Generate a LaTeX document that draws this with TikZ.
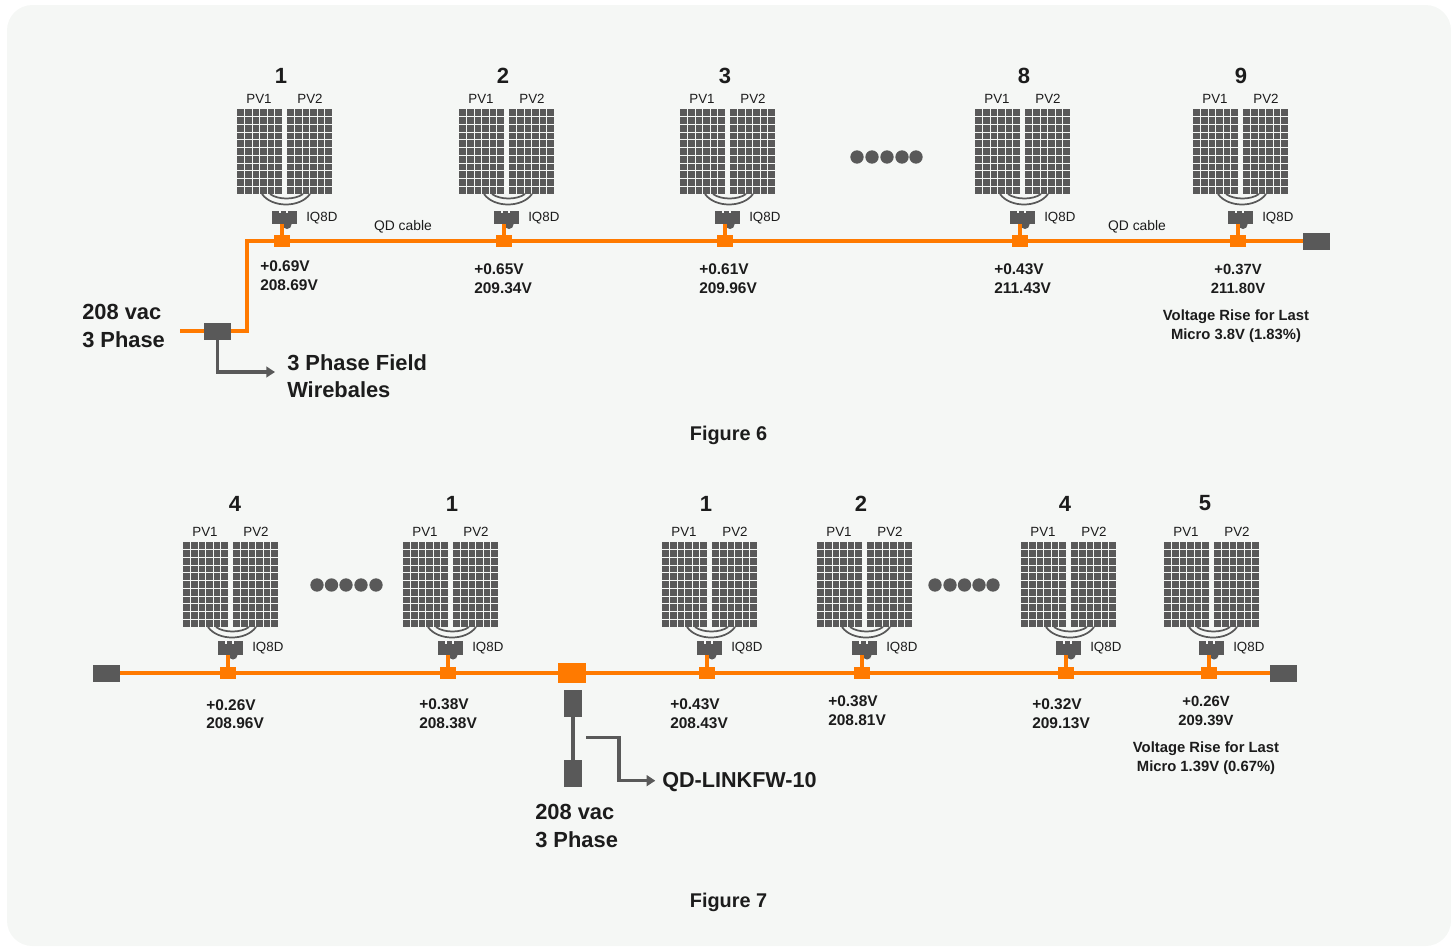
\documentclass[tikz,border=0pt]{standalone}
\usepackage{fontspec}
\setmainfont{Liberation Sans}
\usetikzlibrary{arrows.meta}
\definecolor{pagefill}{HTML}{F5F7F5}
\definecolor{feederline}{HTML}{FF7A00}
\definecolor{unitgray}{HTML}{595959}
\definecolor{inktext}{HTML}{1C1C1C}
\tikzset{
  panel/.style={rectangle, fill=unitgray, minimum width=33.75pt, minimum height=63.75pt, inner sep=0pt},
  cellline/.style={draw=pagefill, line width=0.7pt},
  loopwire/.style={draw=unitgray, line width=1.3pt},
  micro/.style={rectangle, fill=unitgray, minimum width=18.5pt, minimum height=10pt, inner sep=0pt},
  junction/.style={rectangle, fill=feederline, minimum width=12pt, minimum height=9pt, inner sep=0pt},
  endbox/.style={rectangle, fill=unitgray, minimum width=20pt, minimum height=12.75pt, inner sep=0pt},
  hubbox/.style={rectangle, fill=feederline, minimum width=21pt, minimum height=15pt, inner sep=0pt},
  plugbox/.style={rectangle, fill=unitgray, minimum width=13.5pt, minimum height=20.25pt, inner sep=0pt},
  dot/.style={circle, fill=unitgray, minimum size=10pt, inner sep=0pt},
  tag/.style={font=\fontsize{10}{12}\selectfont, text=inktext, inner sep=0pt},
  numtag/.style={font=\bfseries\fontsize{16.5}{20}\selectfont, text=inktext, inner sep=0pt},
  value/.style={font=\bfseries\fontsize{11.6}{14}\selectfont, text=inktext, inner sep=0pt, align=left, anchor=west},
  note/.style={font=\bfseries\fontsize{11.1}{14.2}\selectfont, text=inktext, inner sep=0pt, align=center},
  callout/.style={font=\bfseries\fontsize{16.4}{20.5}\selectfont, text=inktext, inner sep=0pt, align=left, anchor=west},
  caption/.style={font=\bfseries\fontsize{14.9}{18}\selectfont, text=inktext, inner sep=0pt},
  feeder/.style={draw=feederline, line width=2.8pt},
  drop/.style={draw=feederline, line width=2.8pt},
  pointer/.style={draw=unitgray, line width=2.6pt, -{Triangle[length=6.5pt, width=8pt]}},
  link/.style={draw=unitgray, line width=2.6pt}
}
% #1 name, #2 panel left, #3 number x, #4 number, #5 panel top, #6 number y, #7 micro y, #8 line y
\newcommand{\pvunit}[8]{
  \node[numtag] (#1num) at (#3,#6) {#4};
  \node[tag] (#1pva) at (#2+22,#5-10.5) {PV1};
  \node[tag] (#1pvb) at (#2+73,#5-10.5) {PV2};
  \node[panel] (#1pa) at (#2+22.5,#5+42.5) {};
  \node[panel] (#1pb) at (#2+72.5,#5+42.5) {};
  \foreach \off in {0,50} {
    \foreach \k in {1,...,5} { \draw[cellline] ({#2+\off+\k*7.5},#5) -- ++(0,85); }
    \foreach \k in {1,...,10} { \draw[cellline] (#2+\off,{#5+\k*7.73}) -- ++(45,0); }
  }
  \draw[loopwire] (#2+25,#5+85) .. controls (#2+35,#5+99) and (#2+63,#5+99) .. (#2+73,#5+85);
  \draw[loopwire] (#2+33,#5+85) .. controls (#2+41,#5+91) and (#2+58,#5+91) .. (#2+66,#5+85);
  \node[micro] (#1m) at (#2+47.5,#7) {};
  \fill[unitgray] (#2+50,#7+7) circle (4.5);
  \fill[pagefill] (#2+42,#7-7.5) rectangle ++(2,3);
  \fill[pagefill] (#2+49,#7-7.5) rectangle ++(2,3);
  \node[tag, anchor=west] (#1t) at (#2+69,#7+0.5) {IQ8D};
  \node[junction] (#1j) at (#2+45,#8) {};
  \draw[drop] (#1j.north) -- (#1j.north |- #1m.south);
}

\begin{document}
\begin{tikzpicture}[x=0.75pt, y=-0.75pt]
\useasboundingbox (0,0) rectangle (1451,946);
\fill[pagefill, rounded corners=19pt] (7,5) rectangle (1451,946);

% figure 6
\foreach \id/\px/\nx/\lab in {a/237/281/1,b/459/503/2,c/680/725/3,d/975/1024/8,e/1193/1241/9} {
  \pvunit{\id}{\px}{\nx}{\lab}{109}{75.5}{217.5}{241}
}
\foreach \x in {857,872,887,902,916} {
  \node[dot] at (\x,157) {};
}
\node[endbox] (feedbox) at (217.5,331) {};
\node[endbox] (capend) at (1316.5,241) {};
\coordinate (feedin) at (180,331);
\coordinate (corner) at (247,241);
\coordinate (wiretip) at (275,372);
\draw[feeder] (feedin) -- (feedbox);
\draw[feeder, line join=miter] (feedbox.east) -| (corner) -- (aj) -- (bj) -- (cj) -- (dj) -- (ej) -- (capend);
\draw[pointer] (feedbox.south) |- (wiretip);

\node[tag, font=\fontsize{10.4}{12}\selectfont] (cablea) at (403,227) {QD cable};
\node[tag, font=\fontsize{10.4}{12}\selectfont] (cableb) at (1137,227) {QD cable};
\node[value] (vala) at (260,275.5) {+0.69V\\208.69V};
\node[value] (valb) at (474,279) {+0.65V\\209.34V};
\node[value] (valc) at (699,279) {+0.61V\\209.96V};
\node[value] (vald) at (994,279) {+0.43V\\211.43V};
\node[note] (vale) at (1238,279) {+0.37V\\211.80V};
\node[note] (risea) at (1236,326) {Voltage Rise for Last\\Micro 3.8V (1.83\%)};
\node[callout] (supplya) at (82,326) {208 vac\\3 Phase};
\node[callout] (wirelabel) at (287,376.5) {3 Phase Field\\Wirebales};
\node[caption] (figa) at (728.5,435) {Figure 6};

% figure 7
\foreach \id/\px/\nx/\lab in {f/183/235/4,g/403/452/1,h/662/706/1,i/817/861/2,j/1021/1065/4,k/1164/1205/5} {
  \pvunit{\id}{\px}{\nx}{\lab}{542}{503.5}{648}{673}
}
\foreach \x in {317,331.5,346,361,376,935,950,964.5,979,993} {
  \node[dot] at (\x,585) {};
}
\node[endbox] (capl) at (106.5,673) {};
\node[endbox] (capr) at (1283.5,673) {};
\node[hubbox] (hub) at (572,673) {};
\node[plugbox] (plugt) at (573,703.5) {};
\node[plugbox] (plugb) at (573,773.5) {};
\coordinate (qdstart) at (586,737.5);
\draw[feeder] (capl) -- (fj) -- (gj) -- (hub) -- (hj) -- (ij) -- (jj) -- (kj) -- (capr);
\draw[link] (plugt) -- (plugb);

\node[callout, font=\bfseries\fontsize{16.2}{20}\selectfont] (qdlabel) at (662,782) {QD-LINKFW-10};
\draw[pointer] (qdstart) -- ++(33,0) |- ([xshift=-5pt,yshift=1pt]qdlabel.west);

\node[value] (valf) at (206,714) {+0.26V\\208.96V};
\node[value] (valg) at (419,714) {+0.38V\\208.38V};
\node[value] (valh) at (670,714) {+0.43V\\208.43V};
\node[value] (vali) at (828,710.5) {+0.38V\\208.81V};
\node[value] (valj) at (1032,714) {+0.32V\\209.13V};
\node[note] (valk) at (1206,710.5) {+0.26V\\209.39V};
\node[note] (riseb) at (1206,758.5) {Voltage Rise for Last\\Micro 1.39V (0.67\%)};
\node[callout] (supplyb) at (535,826) {208 vac\\3 Phase};
\node[caption] (figb) at (728.5,902) {Figure 7};

\end{tikzpicture}
\end{document}
